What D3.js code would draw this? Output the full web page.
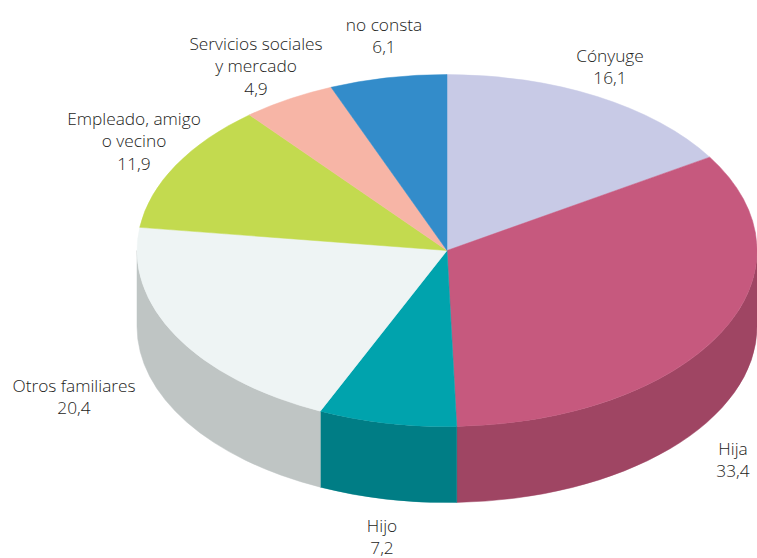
<!DOCTYPE html>
<html><head><meta charset="utf-8">
<script src="https://cdn.jsdelivr.net/npm/d3@7"></script>
<style>html,body{margin:0;padding:0;background:#fff}svg{display:block}text{font-family:"Open Sans",sans-serif;font-size:17.3px;font-weight:300;fill:#1d1d1b}</style>
</head><body><svg id="c" width="757" height="558"></svg>
<script>
const categories=["Cónyuge","Hija","Hijo","Otros familiares","Empleado, amigo o vecino","Servicios sociales y mercado","no consta"];
const values=[16.1,33.4,7.2,20.4,11.9,4.9,6.1];
const topColors=["#c8cae6","#c6597e","#00a3ad","#eef4f4","#c3da4f","#f7b5a6","#338cca"];
const sideColors=["#a5a6bd","#9f4563","#007d85","#bfc5c4","#9fb23f","#c9948a","#2a73a5"];
const labelLines=[["Cónyuge"],["Hija"],["Hijo"],["Otros familiares"],["Empleado, amigo","o vecino"],["Servicios sociales","y mercado"],["no consta"]];
const labelPos=[[610,62],[733,455],[382,532],[74,392],[134,125],[256,50],[384,31]];
const cx=447,cy=250.5,rx=310,ry=176,depth=76;
const svg=d3.select("#c");
const arcs=d3.pie().sort(null).startAngle(0).endAngle(2*Math.PI)(values);
const px=a=>cx+rx*Math.sin(a), py=a=>cy-ry*Math.cos(a);
const fmt=v=>String(v).replace(".",",");
const front=arcs.map(d=>({...d,s:Math.max(d.startAngle,Math.PI/2),e:Math.min(d.endAngle,3*Math.PI/2)})).filter(d=>d.e>d.s);
svg.selectAll("path.side").data(front).join("path").attr("class","side")
 .attr("fill",d=>sideColors[d.index])
 .attr("stroke",d=>sideColors[d.index]).attr("stroke-width",0.5)
 .attr("d",d=>`M${px(d.s)},${py(d.s)}A${rx},${ry} 0 0 1 ${px(d.e)},${py(d.e)}L${px(d.e)},${py(d.e)+depth}A${rx},${ry} 0 0 0 ${px(d.s)},${py(d.s)+depth}Z`);
svg.selectAll("path.top").data(arcs).join("path").attr("class","top")
 .attr("fill",d=>topColors[d.index])
 .attr("stroke",d=>topColors[d.index]).attr("stroke-width",0.5)
 .attr("d",d=>`M${cx},${cy}L${px(d.startAngle)},${py(d.startAngle)}A${rx},${ry} 0 ${d.endAngle-d.startAngle>Math.PI?1:0} 1 ${px(d.endAngle)},${py(d.endAngle)}Z`);
const g=svg.selectAll("text.l").data(categories).join("text").attr("class","l").attr("text-anchor","middle")
 .attr("transform",(d,i)=>`translate(${labelPos[i][0]},${labelPos[i][1]})`);
g.selectAll("tspan").data((d,i)=>[...labelLines[i],fmt(values[i])]).join("tspan").attr("x",0).attr("dy",(d,i)=>i?22.3:0).text(d=>d);
</script></body></html>
